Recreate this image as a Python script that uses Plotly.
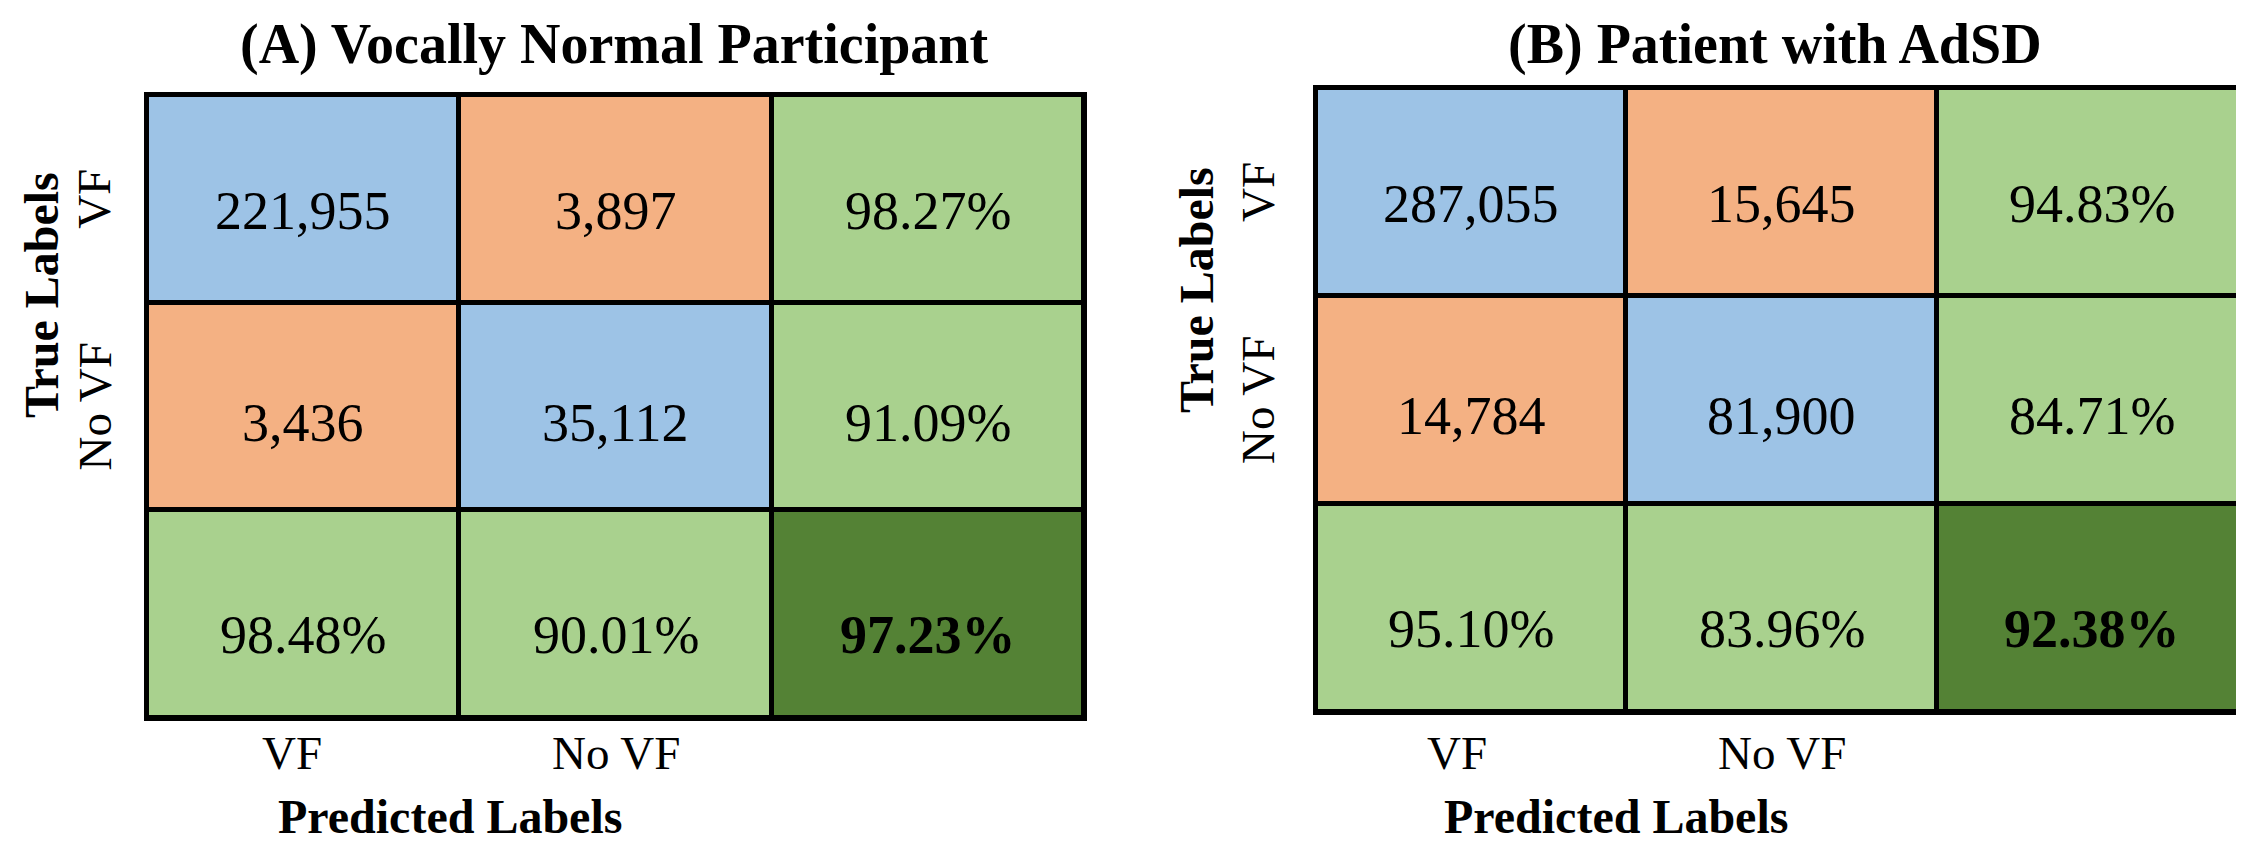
import plotly.graph_objects as go

W, H = 2244, 842

# ---------------- data ----------------
row_labels = ["VF", "No VF"]
col_labels = ["VF", "No VF"]

a_title = "(A) Vocally Normal Participant"
a_counts = [[221955, 3897], [3436, 35112]]
a_row_pct = [98.27, 91.09]
a_col_pct = [98.48, 90.01]
a_acc = 97.23

b_title = "(B) Patient with AdSD"
b_counts = [[287055, 15645], [14784, 81900]]
b_row_pct = [94.83, 84.71]
b_col_pct = [95.10, 83.96]
b_acc = 92.38

x_title = "Predicted Labels"
y_title = "True Labels"

# ---------------- style ----------------
FONT = "Liberation Serif, Times New Roman, serif"
BLUE, ORANGE, LGREEN, DGREEN = "#9DC3E6", "#F4B183", "#A9D18E", "#548235"
colorscale = [[0, BLUE], [1/6, BLUE], [1/6, ORANGE], [0.5, ORANGE],
              [0.5, LGREEN], [5/6, LGREEN], [5/6, DGREEN], [1, DGREEN]]


def px(x):
    return x / W


def py(y):
    return 1 - y / H


panels = [
    dict(title=a_title, counts=a_counts, row_pct=a_row_pct, col_pct=a_col_pct, acc=a_acc,
         dom_x=(139, 1076), dom_y=(87, 710), title_xy=(606, 36), ytitle_x=33, ytitle_y=287,
         ytick_x=86, xtick_y=745, xtitle_xy=(442, 808), vf_shift=-11),
    dict(title=b_title, counts=b_counts, row_pct=b_row_pct, col_pct=b_col_pct, acc=b_acc,
         dom_x=(1308, 2239), dom_y=(80, 704), title_xy=(1767, 36), ytitle_x=1188, ytitle_y=282,
         ytick_x=1250, xtick_y=745, xtitle_xy=(1608, 808), vf_shift=-14),
]

fig = go.Figure()
annotations = []
row_shift = [-12, -16, -21]

for k, p in enumerate(panels):
    n = len(p["counts"])
    z, texts = [], []
    for i in range(n + 1):
        zr, tr = [], []
        for j in range(n + 1):
            if i < n and j < n:
                zr.append(0 if i == j else 1)
                tr.append(f"{p['counts'][i][j]:,}")
            elif i < n:
                zr.append(2)
                tr.append(f"{p['row_pct'][i]:.2f}%")
            elif j < n:
                zr.append(2)
                tr.append(f"{p['col_pct'][j]:.2f}%")
            else:
                zr.append(3)
                tr.append(f"<b>{p['acc']:.2f}%</b>")
        z.append(zr)
        texts.append(tr)

    xa = "x" if k == 0 else "x2"
    ya = "y" if k == 0 else "y2"
    fig.add_trace(go.Heatmap(
        z=z, x=list(range(n + 1)), y=list(range(n + 1)),
        colorscale=colorscale, zmin=0, zmax=3, showscale=False,
        xgap=5, ygap=5, hoverinfo="skip", xaxis=xa, yaxis=ya,
    ))

    for i in range(n + 1):
        for j in range(n + 1):
            annotations.append(dict(
                x=j, y=i, xref=xa, yref=ya, text=texts[i][j], showarrow=False,
                font=dict(family=FONT, size=54, color="black"), yshift=row_shift[i],
            ))

    # titles
    annotations.append(dict(x=px(p["title_xy"][0]), y=py(p["title_xy"][1]), xref="paper", yref="paper",
                            text=f"<b>{p['title']}</b>", showarrow=False,
                            font=dict(family=FONT, size=56, color="black"),
                            xanchor="center", yanchor="middle"))
    annotations.append(dict(x=px(p["ytitle_x"]), y=py(p["ytitle_y"]), xref="paper", yref="paper",
                            text=f"<b>{y_title}</b>", showarrow=False, textangle=-90,
                            font=dict(family=FONT, size=48, color="black"),
                            xanchor="center", yanchor="middle"))
    annotations.append(dict(x=px(p["xtitle_xy"][0]), y=py(p["xtitle_xy"][1]), xref="paper", yref="paper",
                            text=f"<b>{x_title}</b>", showarrow=False,
                            font=dict(family=FONT, size=48, color="black"),
                            xanchor="center", yanchor="middle"))
    # tick labels
    for i, lab in enumerate(row_labels):
        annotations.append(dict(x=px(p["ytick_x"]), y=i, xref="paper", yref=ya, text=lab,
                                showarrow=False, textangle=-90,
                                font=dict(family=FONT, size=47, color="black"),
                                xanchor="center", yanchor="middle"))
    for j, lab in enumerate(col_labels):
        annotations.append(dict(x=j, y=py(p["xtick_y"]), xref=xa, yref="paper", text=lab,
                                showarrow=False, xshift=p["vf_shift"] if j == 0 else 0,
                                font=dict(family=FONT, size=47, color="black"),
                                xanchor="center", yanchor="middle"))

axis_common = dict(range=[-0.5, 2.5], showgrid=False, zeroline=False, showticklabels=False,
                   ticks="", showline=True, mirror=True, linecolor="black", linewidth=3)

fig.update_layout(
    width=W, height=H, margin=dict(l=0, r=0, t=0, b=0),
    paper_bgcolor="white", plot_bgcolor="black",
    xaxis=dict(domain=[px(panels[0]["dom_x"][0]), px(panels[0]["dom_x"][1])], anchor="y", **axis_common),
    yaxis=dict(domain=[py(panels[0]["dom_y"][1]), py(panels[0]["dom_y"][0])], anchor="x",
               **{**axis_common, "range": [2.5, -0.5]}),
    xaxis2=dict(domain=[px(panels[1]["dom_x"][0]), px(panels[1]["dom_x"][1])], anchor="y2", **axis_common),
    yaxis2=dict(domain=[py(panels[1]["dom_y"][1]), py(panels[1]["dom_y"][0])], anchor="x2",
                **{**axis_common, "range": [2.5, -0.5]}),
    annotations=annotations,
    showlegend=False,
)

fig.write_html("out.html")
